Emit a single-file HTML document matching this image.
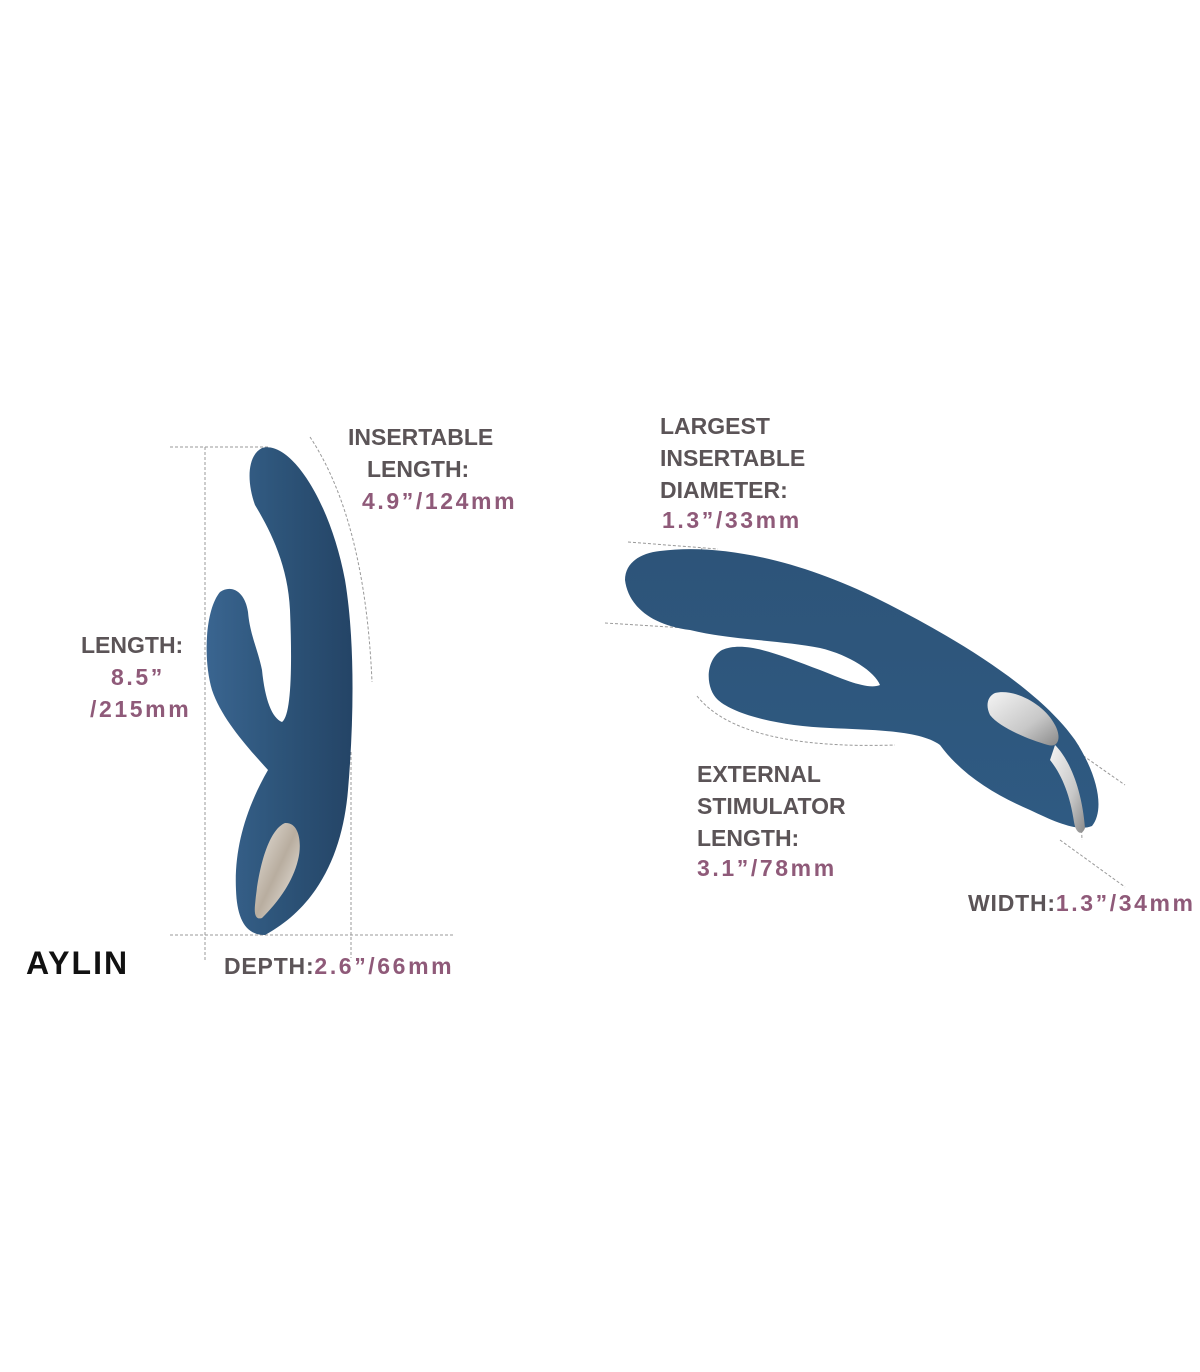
<!DOCTYPE html>
<html><head><meta charset="utf-8"><style>
html,body{margin:0;padding:0;background:#fff;}
svg{display:block}
text{font-family:"Liberation Sans",sans-serif;font-weight:bold;font-size:23px;}
.g{fill:#5b5457}.p{fill:#8f5a79;letter-spacing:2.6px}
</style></head><body>
<svg width="1200" height="1372" viewBox="0 0 1200 1372" xmlns="http://www.w3.org/2000/svg">
<defs>
<linearGradient id="bl" x1="0" y1="0" x2="1" y2="0">
<stop offset="0" stop-color="#3a6590"/><stop offset="0.5" stop-color="#2d5479"/><stop offset="1" stop-color="#244466"/>
</linearGradient>
<linearGradient id="br" x1="0" y1="0" x2="0" y2="1">
<stop offset="0" stop-color="#2d5479"/><stop offset="1" stop-color="#2f5a82"/>
</linearGradient>
<linearGradient id="mt" x1="0" y1="0" x2="1" y2="1">
<stop offset="0" stop-color="#e8e3dc"/><stop offset="0.5" stop-color="#b8ad9f"/><stop offset="1" stop-color="#f2efea"/>
</linearGradient>
<linearGradient id="ms" x1="0" y1="0" x2="1" y2="1">
<stop offset="0" stop-color="#f4f4f4"/><stop offset="0.6" stop-color="#c8c8c8"/><stop offset="1" stop-color="#8a8a8a"/>
</linearGradient>
</defs>
<g stroke="#999" stroke-width="1" stroke-dasharray="3,2" fill="none">
<line x1="170" y1="447" x2="270" y2="447"/>
<line x1="205" y1="447" x2="205" y2="960"/>
<line x1="170" y1="935" x2="455" y2="935"/>
<line x1="351" y1="752" x2="351" y2="958"/>
<path d="M310 437 Q365 520 372 682"/>
<line x1="628" y1="542" x2="718" y2="549"/>
<line x1="605" y1="623" x2="685" y2="628"/>
<line x1="702" y1="548" x2="680" y2="628"/>
<path d="M697 696 Q740 750 895 745"/>
<line x1="1075" y1="750" x2="1125" y2="785"/>
<line x1="1060" y1="840" x2="1125" y2="887"/>
<line x1="1078" y1="745" x2="1082" y2="840"/>
</g>
<!-- left device -->
<path fill="url(#bl)" d="M262 448 C290 440 330 500 345 580 C355 640 354 720 348 790 C343 850 320 905 265 935 C245 935 237 918 236 890 C234 850 245 810 268 770 C250 750 222 720 212 690 C203 660 205 610 220 592 C232 584 245 592 248 612 C250 635 258 650 262 670 C265 700 272 718 282 722 C292 715 292 660 290 610 C288 565 270 530 255 505 C246 480 248 455 262 448 Z"/>
<path fill="url(#mt)" d="M285 823 C300 822 302 845 298 860 C292 885 275 905 262 918 C256 920 254 915 255 905 C258 870 268 830 285 823 Z"/>
<!-- right device -->
<path fill="url(#br)" d="M660 551 C720 543 800 560 880 600 C960 640 1040 690 1075 740 C1098 775 1105 810 1092 826 C1078 832 1055 822 1030 810 C995 795 962 775 940 745 C920 730 870 730 830 728 C780 726 735 715 718 700 C705 688 705 660 722 650 C745 640 780 655 820 670 C845 680 868 690 880 685 C875 672 850 655 820 648 C780 640 730 640 690 630 C650 625 628 605 625 580 C625 563 640 553 660 551 Z"/>
<path fill="url(#ms)" d="M995 693 C1015 688 1045 705 1055 725 C1062 738 1058 748 1048 745 C1030 740 1000 728 990 715 C985 705 988 696 995 693 Z"/>
<path fill="url(#ms)" d="M1055 745 C1070 760 1082 790 1085 828 C1082 836 1076 834 1074 822 C1070 795 1062 775 1050 760 Z"/>
<text x="348" y="445" class="g">INSERTABLE</text>
<text x="367" y="477" class="g">LENGTH:</text>
<text x="362" y="509" class="p">4.9”/124mm</text>
<text x="81" y="653" class="g">LENGTH:</text>
<text x="111" y="685" class="p">8.5”</text>
<text x="90" y="717" class="p">/215mm</text>
<text x="26" y="974" style="font-size:32px;fill:#111;letter-spacing:2px">AYLIN</text>
<text x="224" y="974" class="g" style="letter-spacing:0.8px">DEPTH:<tspan class="p">2.6”/66mm</tspan></text>
<text x="660" y="434" class="g">LARGEST</text>
<text x="660" y="466" class="g">INSERTABLE</text>
<text x="660" y="498" class="g">DIAMETER:</text>
<text x="662" y="528" class="p">1.3”/33mm</text>
<text x="697" y="782" class="g">EXTERNAL</text>
<text x="697" y="814" class="g">STIMULATOR</text>
<text x="697" y="846" class="g">LENGTH:</text>
<text x="697" y="876" class="p">3.1”/78mm</text>
<text x="968" y="911" class="g" style="letter-spacing:0.8px">WIDTH:<tspan class="p">1.3”/34mm</tspan></text>
</svg>
</body></html>
